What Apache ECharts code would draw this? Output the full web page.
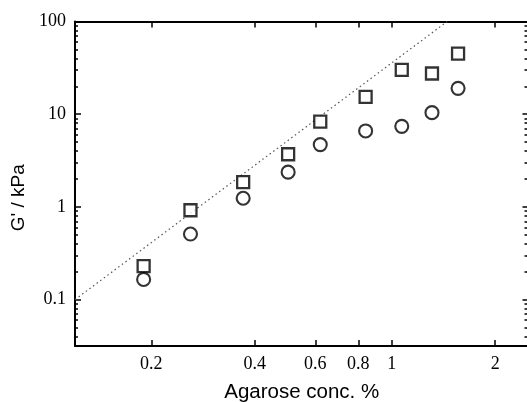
<!DOCTYPE html>
<html>
<head>
<meta charset="utf-8">
<script src="https://cdn.jsdelivr.net/npm/echarts@6/dist/echarts.min.js"></script>
<style>
html,body{margin:0;padding:0;background:#fff;}
#chart{width:527px;height:402px;}
</style>
</head>
<body>
<div id="chart"></div>
<script>
// Agarose concentration (%)
const conc = [0.19, 0.26, 0.37, 0.50, 0.62, 0.84, 1.07, 1.31, 1.56];
// G' (kPa), squares
const gSquare = [0.23, 0.92, 1.85, 3.7, 8.3, 15.4, 30.0, 27.5, 45.0];
// G' (kPa), circles
const gCircle = [0.165, 0.51, 1.24, 2.37, 4.7, 6.6, 7.4, 10.4, 19.0];
// dotted reference line endpoints
const lineX = [0.12, 1.45];
const lineY = [0.1, 100];
// tick labels
const xTicks = [0.2, 0.4, 0.6, 0.8, 1, 2];
const yTicks = [0.1, 1, 10, 100];
const yMinor = [0.04,0.05,0.06,0.07,0.08,0.09,0.2,0.3,0.4,0.5,0.6,0.7,0.8,0.9,2,3,4,5,6,7,8,9,20,30,40,50,60,70,80,90];

const serif = '"Liberation Serif", "DejaVu Serif", serif';
const sans = '"Liberation Sans", Arial, sans-serif';
const lineStyle = {color:'#000', width:2};

function yAx(pos, opts) {
  return Object.assign({
    type:'log', logBase:10, min:0.0316, max:100, position:pos,
    axisLine:{show:true, onZero:false, lineStyle},
    splitLine:{show:false}, minorTick:{show:false}, minorSplitLine:{show:false},
    axisLabel:{show:false},
    axisTick:{show:true, inside:true, length:6, customValues:yTicks, lineStyle:{color:'#000', width:1.5}}
  }, opts);
}
function xAx(pos, opts) {
  return Object.assign({
    type:'log', logBase:10, min:0.12, max:2.5, position:pos,
    axisLine:{show:true, onZero:false, lineStyle},
    splitLine:{show:false}, minorTick:{show:false}, minorSplitLine:{show:false},
    axisLabel:{show:false},
    axisTick:{show:true, inside:true, length:6, customValues:xTicks, lineStyle:{color:'#000', width:1.5}}
  }, opts);
}

const chart = echarts.init(document.getElementById('chart'), null, {renderer:'canvas'});
chart.setOption({
  animation:false,
  backgroundColor:'#fff',
  grid:{left:75, top:21.5, width:453.5, height:324.5, containLabel:false, outerBoundsMode:'none'},
  xAxis:[
    xAx('bottom', {
      name:'Agarose conc. %', nameLocation:'middle', nameGap:36,
      nameTextStyle:{fontFamily:sans, fontSize:20.5, color:'#000'},
      axisLabel:{show:true, customValues:xTicks, margin:9, fontFamily:serif, fontSize:18, color:'#000',
        formatter:v=>String(+(+v).toFixed(2))}
    }),
    xAx('top', {})
  ],
  yAxis:[
    yAx('left', {
      name:"G' / kPa", nameLocation:'middle', nameGap:41, nameRotate:90,
      nameTextStyle:{fontFamily:sans, fontSize:19, color:'#000', padding:[0,28,0,0]},
      axisLabel:{show:true, customValues:yTicks, margin:9, fontFamily:serif, fontSize:18, color:'#000',
        formatter:v=>String(+(+v).toFixed(2))}
    }),
    yAx('right', {}),
    yAx('left', {axisLine:{show:false}, axisTick:{show:true, inside:true, length:3, customValues:yMinor, lineStyle:{color:'#000', width:1.5}}}),
    yAx('right', {axisLine:{show:false}, axisTick:{show:true, inside:true, length:4, customValues:yMinor, lineStyle:{color:'#000', width:1.5}}})
  ],
  series:[
    {
      type:'line', data:lineX.map((x,i)=>[x, lineY[i]]), symbol:'none',
      lineStyle:{type:[1.5,3], color:'#555', width:1.2}, z:1, silent:true
    },
    {
      type:'scatter', data:conc.map((x,i)=>[x, gSquare[i]]), symbol:'rect', symbolSize:12,
      itemStyle:{color:'#fff', borderColor:'#000', borderWidth:2.3}, z:3
    },
    {
      type:'scatter', data:conc.map((x,i)=>[x, gCircle[i]]), symbol:'circle', symbolSize:13,
      itemStyle:{color:'#fff', borderColor:'#000', borderWidth:2.1}, z:3
    }
  ]
});
</script>
</body>
</html>
